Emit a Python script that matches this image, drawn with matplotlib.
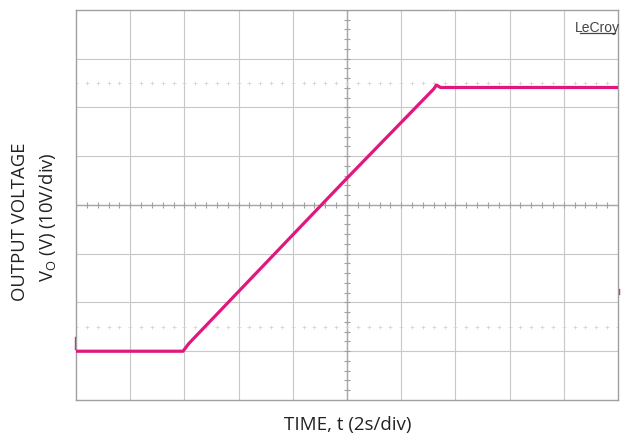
import matplotlib.pyplot as plt
import numpy as np

# Scope trace (time in s, 2 s/div; voltage in V, 10 V/div)
t_s = [0.0, 3.95, 4.15, 10.0, 13.2, 13.3, 13.45, 20.0]
v_out = [-30.0, -30.0, -28.5, 5.5, 23.8, 24.6, 24.1, 24.1]

x_div, y_div = 2.0, 10.0
n_x, n_y = 10, 8
x_max = x_div * n_x
y_half = y_div * n_y / 2

trace_col = '#E2177E'
grid_col = '#c8c8c8'
plt.rcParams['font.family'] = ['Open Sans', 'DejaVu Sans']

fig = plt.figure(figsize=(6.21, 4.39), dpi=100)
ax = fig.add_axes([0.1224, 0.0866, 0.8728, 0.8884])
ax.set_xlim(0, x_max)
ax.set_ylim(-y_half, y_half)

# graticule
for i in range(1, n_x):
    ax.axvline(i * x_div, color=grid_col, lw=0.8, zorder=1)
for j in range(1, n_y):
    ax.axhline(-y_half + j * y_div, color=grid_col, lw=0.8, zorder=1)

# centre axes with small ticks
ax.axhline(0, color='#a8a8a8', lw=1.0, zorder=1)
ax.axvline(x_max / 2, color='#a8a8a8', lw=1.0, zorder=1)
xt = np.arange(0, x_max + 1e-9, x_div / 5)
yt = np.arange(-y_half, y_half + 1e-9, y_div / 5)
ax.plot(xt, np.zeros_like(xt), ls='none', marker='|', ms=5, mew=0.8, color='#a0a0a0', zorder=1)
ax.plot(np.full_like(yt, x_max / 2), yt, ls='none', marker='_', ms=5, mew=0.8, color='#a0a0a0', zorder=1)

# dotted level lines at +/- 2.5 div
for lv in (2.5 * y_div, -2.5 * y_div):
    ax.plot(xt, np.full_like(xt, lv), ls='none', marker='+', ms=3, mew=0.5, color='#d0d0d0', zorder=1)

# trace
ax.plot(t_s, v_out, color=trace_col, lw=2.3, solid_joinstyle='round', zorder=3)

# channel markers on the edges
ax.plot([-0.05, -0.05], [-29.5, -27.0], color=trace_col, lw=1.0, clip_on=False)
ax.plot([x_max + 0.05, x_max + 0.05], [-18.2, -17.2], color=trace_col, lw=1.0, clip_on=False)

ax.set_xticks([])
ax.set_yticks([])
for sp in ax.spines.values():
    sp.set_color('#a0a0a0')
    sp.set_linewidth(1.0)

ax.text(0.962, 0.975, 'LeCroy', transform=ax.transAxes, ha='center', va='top',
        fontsize=10, color='#444444', family='Liberation Sans')
ax.plot([0.929, 0.995], [0.942, 0.942], transform=ax.transAxes, color='#444444', lw=0.9)

fig.text(0.5604, 0.032, 'TIME, t (2s/div)', ha='center', va='center', fontsize=13.5, color='#222222')
fig.text(0.033, 0.495, 'OUTPUT VOLTAGE', rotation=90, ha='center', va='center', fontsize=13.3, color='#222222')
fig.text(0.077, 0.505, 'V$_\\mathregular{O}$ (V) (10V/div)', rotation=90, ha='center', va='center',
         fontsize=13.3, color='#222222')

fig.savefig('out.png', dpi=100)
